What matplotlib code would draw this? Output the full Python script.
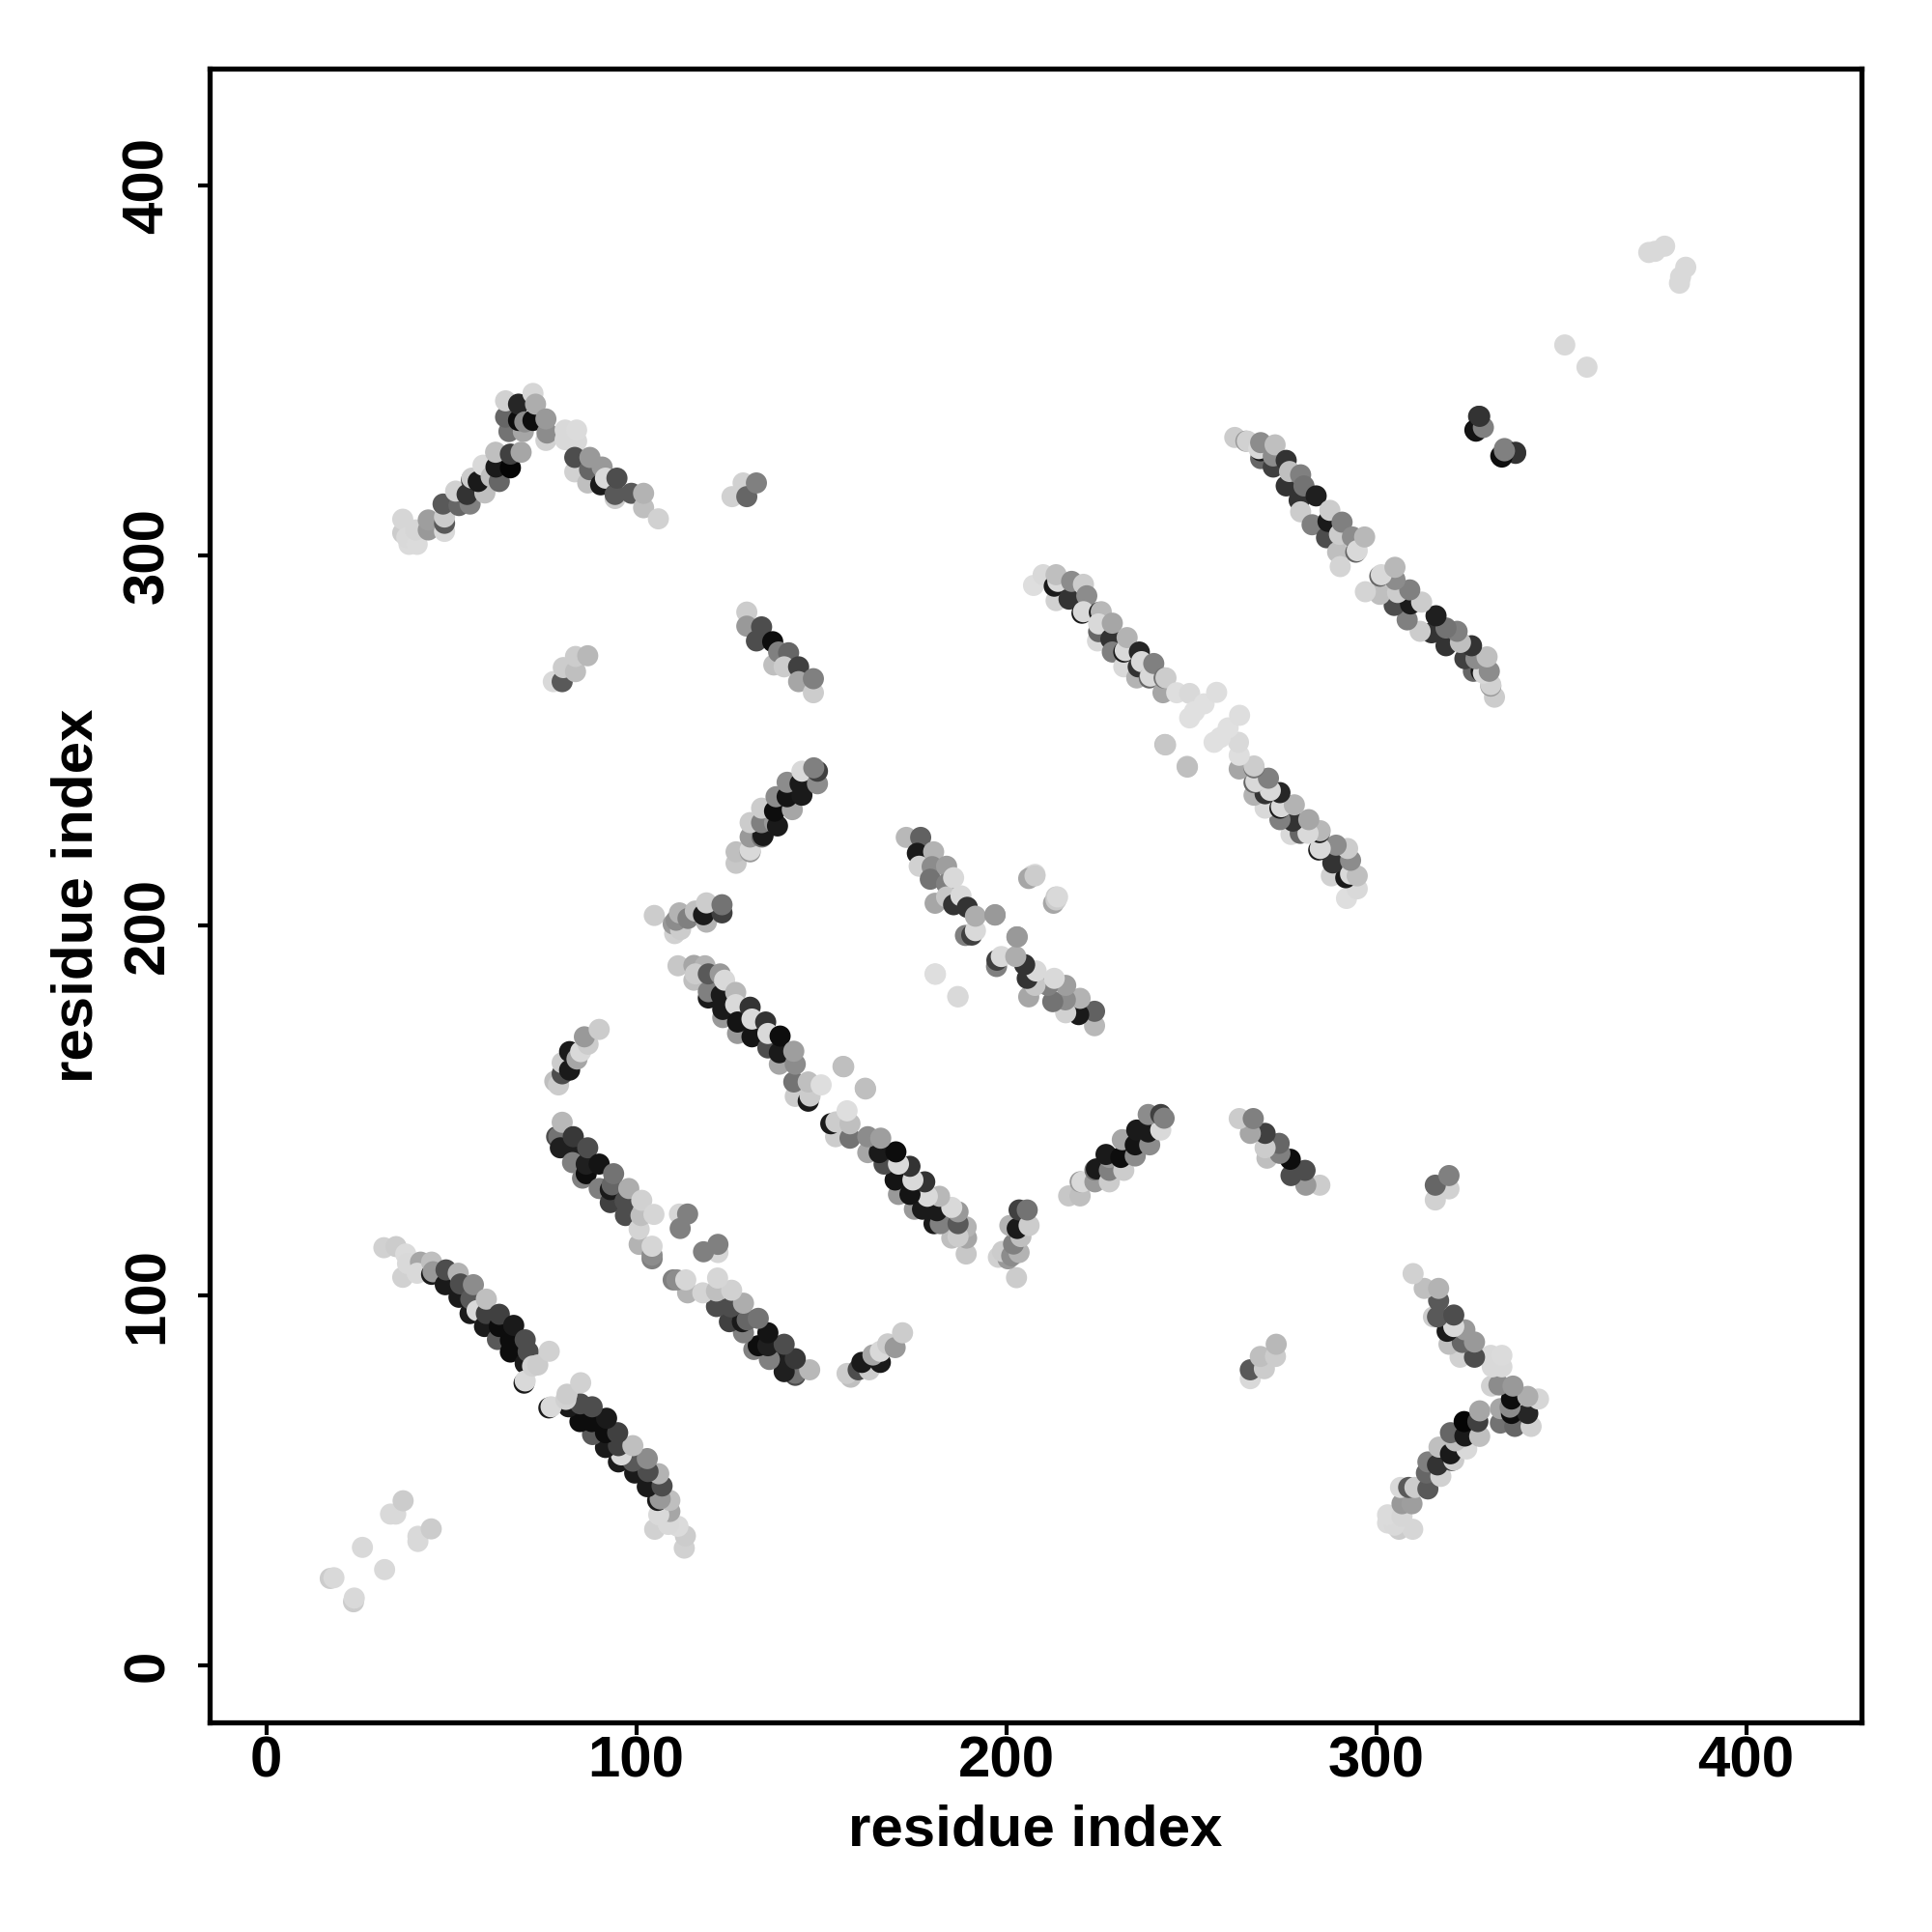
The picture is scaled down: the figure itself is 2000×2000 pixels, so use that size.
import matplotlib
matplotlib.use('Agg')
import matplotlib.pyplot as plt

plt.rcParams['font.family'] = ['Liberation Sans', 'DejaVu Sans']
plt.rcParams['font.weight'] = 'bold'

# contacts as (residue, residue, grey level), one half of the symmetric map
strand_a = [
    (31.8,113,.82),(35.1,113.3,.8),(37.7,111.3,.86),(36.9,105,.82),(38.2,108.7,.85),
    (41.7,109.1,.65),(40.8,106.1,.85),(44.7,105.8,.1),(44.7,109.1,.75),(45.1,106.5,.6),
    (48.4,103,.1),(48.6,107,.3),(52.1,99.6,.1),(51.9,106.1,.7),(52.5,103.2,.3),
    (55.1,95.2,.1),(55.3,99.1,.35),(56,103,.55),(57,96,.85),(59,91.7,.1),(59.5,95.2,.25),
    (59.5,99.1,.75),(62.5,88.2,.35),(63,91.7,.05),(63,95,.25),(66,84.8,.05),(66,88,.05),
    (66.9,92,.1),(70,81.7,.1),(70,88.1,.3),(70.8,84.9,.3),(69.7,76.4,.1),(70,77,.85),
    (72,81,.82),(73.4,81.3,.8),(76.5,85,.82),
]
strand_b = [
    (78.5,143,.3),(79.1,143,.45),(79.5,140,.12),(80,146.9,.72),(83,139.5,.12),(83,143,.22),
    (82.8,136,.5),(85.5,131.8,.5),(86.5,133,.05),(86.5,135.6,.12),(86.9,140,.3),(90,129,.5),
    (90,135.6,.08),(93,125.2,.25),(93,128.7,.1),(93.5,130,.4),(93.9,133,.45),(97,125.6,.3),
    (97.1,121.7,.3),(98,129,.68),(100.8,113.9,.7),(100.8,118,.83),(101.3,121.7,.75),
    (101.5,125.8,.82),(104.3,110,.5),(104.3,111,.55),(104.3,113.4,.84),(104.8,122,.84),
    (111.7,122.1,.84),(113.9,122.1,.5),(111.9,118.2,.5),
]
cluster_c = [
    (78,158,.75),(79,157,.8),(80,160,.3),(80,163,.8),(82,161,.1),(82,166,.1),
    (84,164,.65),(85,166,.85),(87,168,.8),(86,170,.6),(90,172,.8),
]
cluster_d = [
    (104.9,202.8,.8),(110.4,197.9,.82),(110,200.5,.6),(112,199,.8),(110.8,201.5,.55),
    (111.7,203.5,.7),(114,202,.5),(116,204,.75),(119,201,.7),(118.2,203,.1),
    (123.2,203.5,.25),(119,206.2,.8),(123.2,205.7,.45),
]
strand_e = [
    (127,216.9,.78),(127,220,.75),(130.8,220,.6),(130.8,220.5,.85),(130.8,224,.6),
    (134,224,.45),(134.3,224.4,.1),(130.8,227.9,.8),(133.9,227.9,.5),(137.4,227.9,.6),
    (138.2,227,.1),(133.9,231.8,.8),(137.4,231,.05),(142.2,231.4,.65),(137.8,234.9,.55),
    (140.8,234.9,.08),(144.8,235.3,.1),(140.8,238.8,.55),(144.3,238.4,.1),(144.8,241.8,.85),
    (149,238.4,.55),(149,241.8,.25),(148,242.7,.5),
]
strand_f = [
    (111.3,189.2,.78),(115.6,189.3,.65),(118.6,189.2,.7),(115.6,185.3,.75),(116,187,.8),
    (119.5,180.5,.1),(119.5,182.2,.5),(119.5,187,.35),(122.7,187,.6),(123.4,175.2,.6),
    (123.4,177.4,.1),(123,181.3,.1),(123.9,185.3,.85),(126.9,182,.72),(126.9,178.7,.85),
    (127.4,170.9,.6),(127.4,174,.08),(130.8,178,.2),(131.3,170,.08),(131.3,174.8,.85),
    (135.6,167,.3),(135,174,.2),(135.6,170.9,.85),(138.7,162.6,.65),(138.7,165.7,.1),
    (138.9,170.2,.05),(143,153.9,.8),(142.6,157.8,.45),(143,162.6,.55),(142.6,166.1,.62),
    (146.5,152.6,.1),(147,154,.8),(146.5,157.8,.75),(150,157,.87),(155.9,162,.75),(161.9,156.1,.75),
]
strand_g = [
    (173,223.9,.72),(176.9,223.9,.38),(176,219.6,.1),(176.5,216.1,.82),(180.4,220,.7),
    (180,216,.55),(179.5,212.6,.45),(180.8,206.1,.65),(183.9,216.1,.62),(183.9,211.3,.5),
    (183.9,207.8,.78),(185.8,213,.85),(185.8,205.7,.2),(187.8,208.1,.85),(189,197.4,.5),
    (190.7,197.5,.25),(189.5,205,.2),(191.7,198.7,.85),(191.7,202.6,.68),(197,203,.6),
    (202.9,197,.6),(207,213.5,.8),(207.8,213.9,.85),(212.8,206.1,.65),(213.5,207.8,.8),
    (180.8,187,.85),(186.9,180.9,.87),
]
strand_i = [
    (207.4,292,.87),(210,294.9,.85),(213.5,287.9,.82),(213,291.8,.1),(214,293.1,.85),
    (213.5,294.9,.75),(217,288.3,.2),(217.7,293.1,.55),(220.9,292.3,.8),(221.8,289.2,.55),
    (220.5,284.5,.1),(220.9,284.9,.85),(225.2,284.7,.1),(225.7,284.9,.72),(224.7,277,.85),
    (225,279.5,.4),(225,281.6,.85),(228.3,277.5,.2),(228.7,274,.5),(228.7,281.8,.65),
    (231.8,270,.85),(231.8,274,.1),(232.2,274.4,.85),(232.7,277.9,.7),(235.3,267,.7),
    (235.7,270,.2),(236,274,.15),(236.6,271.4,.85),(238.7,267,.4),(239,267.5,.85),
    (239.9,270.9,.5),(242.4,263,.65),(242.7,267,.45),(243.2,267,.8),(246.1,263,.87),
    (249.6,262.8,.85),(249.6,256.2,.88),(250.9,257.9,.88),(253.5,260,.88),(256.9,263.1,.87),
    (242.9,249,.75),(248.9,243.1,.78),
]
strand_j = [
    (261.8,332,.8),(264.8,331,.6),(265.2,331,.82),(268.8,326.3,.4),(268.8,328.4,.1),
    (268.3,329,.85),(268.8,330.6,.55),(272.2,324,.25),(272.2,327,.55),(272.7,330,.75),
    (275.7,318.9,.2),(275.7,325.8,.2),(276.6,322.8,.75),(279.6,321.9,.5),(279.2,315,.2),
    (279.6,311.9,.8),(280.5,318.9,.45),(282.7,308.4,.5),(283.8,316.2,.12),(286.6,304.9,.3),
    (287,309.3,.1),(287.5,312.3,.8),(289.6,301,.75),(290.1,305.8,.8),(290.8,309.1,.5),
    (290.3,297.1,.83),(293.6,305.1,.55),(294.5,301,.4),(294.9,301.4,.85),(296.9,305.1,.72),
]
cluster_k = [
    (77.6,266,.85),(80,266,.35),(80.3,269.8,.8),(83.6,268.7,.75),(83.6,272.8,.8),(86.9,273,.72),
]
cluster_l = [
    (129.9,284.8,.8),(129.9,281,.6),(133.9,280.8,.3),(132.5,277,.3),(136.9,276.8,.05),
    (137.2,270.5,.75),(138.5,274,.5),(141.2,273.8,.4),(140,270,.8),(143.9,270,.25),
    (143.9,266,.65),(147.9,263,.8),(147.9,266.8,.5),
]
cluster_m = [(125.9,316,.82),(128.9,319.7,.82),(129.9,316,.4),(132.5,319.7,.5)]
hairpin_n = [
    (36.9,306.2,.8),(36.9,309.9,.84),(38.6,303.1,.86),(38,305,.85),(40.8,303.1,.86),
    (40.4,307,.84),(43.8,307,.6),(43.8,309.7,.62),(48.2,306.6,.85),(48.2,308.8,.35),
    (48.2,310.5,.8),(47.8,314,.35),(52.1,313.6,.4),(55.1,314,.5),(51.2,317.5,.82),
    (54.3,316.6,.2),(55.5,320.5,.2),(59.1,317,.75),(55.6,321,.8),(57.3,320.1,.1),
    (58.6,324.5,.85),(60.8,321.4,.75),(63,320.1,.4),(62.1,324,.1),(62,328,.75),
    (66,323.8,.02),(66,327.5,.25),(68.9,328,.65),(65.6,333.6,.45),(64.7,337.5,.4),
    (64.7,341.9,.82),(69.5,333.6,.65),(68.2,336.6,.05),(68.2,341,.15),(69.9,336.2,.55),
    (72.1,336.6,.05),(72.1,343.9,.84),(72.8,341,.68),(75.6,331.2,.82),(75.9,333.2,.55),
    (75.6,337,.6),(80.8,331.4,.85),(80.8,334,.85),(83.9,331,.85),(83.9,334,.86),
    (83.4,322.7,.82),(83.4,326.6,.3),(86.9,319.7,.75),(87.4,323.3,.4),(87.5,326.6,.6),
    (90.4,319.2,.1),(90.8,324,.6),(91.7,321,.85),(94.3,315.5,.8),(94.3,316.6,.35),
    (94.8,321,.3),(98.7,316.9,.35),(102,313,.75),(102,316.9,.7),(106,310,.82),
]
cluster_o = [
    (327.7,337.7,.2),(326.7,334,.05),(328.4,334.7,.5),(333.7,327,.08),(334.7,329,.5),(337.7,328,.2),
]
cluster_far = [
    (351,357,.85),(373.7,382,.85),(375.4,382.3,.85),(378,383.7,.85),
]
cluster_low = [
    (17.3,23.6,.8),(18.3,23.8,.85),(26,32,.85),(33.6,41,.85),(35,41,.85),(37,44.6,.8),
]

all_clusters = [strand_a, strand_b, cluster_c, cluster_d, strand_e, strand_f, strand_g,
                strand_i, strand_j, cluster_k, cluster_l, cluster_m, hairpin_n, cluster_o,
                cluster_far, cluster_low]
ticks = [0, 100, 200, 300, 400]

fig = plt.figure(figsize=(10, 10), dpi=200)
ax = fig.add_axes([217 / 2000, 217 / 2000, 1710 / 2000, 1712 / 2000])

for cluster in all_clusters:
    xs = [c[0] for c in cluster]
    ys = [c[1] for c in cluster]
    greys = [str(c[2]) for c in cluster]
    # map is symmetric, each contact shows up on both sides of the diagonal
    ax.scatter(xs, ys, s=62, c=greys, linewidths=0, zorder=2)
    ax.scatter(ys, xs, s=62, c=greys, linewidths=0, zorder=2)

ax.set_xlim(-15.3, 431.2)
ax.set_ylim(-15.3, 431.7)
ax.set_xticks(ticks)
ax.set_yticks(ticks)
ax.tick_params(axis='x', length=4.5, width=1.5, labelsize=21.6, pad=0.5)
ax.tick_params(axis='y', length=4.5, width=1.5, labelsize=21.6, pad=8.5)
for lab in ax.get_yticklabels():
    lab.set_rotation(90)
    lab.set_va('center')
for side in ax.spines.values():
    side.set_linewidth(1.9)
ax.set_xlabel('residue index', fontsize=21.6, fontweight='bold', labelpad=5.5)
ax.set_ylabel('residue index', fontsize=21.6, fontweight='bold', labelpad=6.5)

fig.savefig('out.png', dpi=200)
